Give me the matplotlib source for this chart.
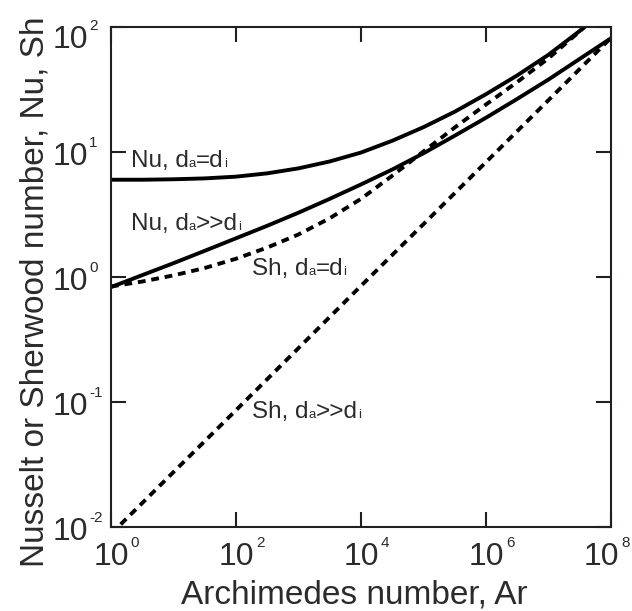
# Nusselt / Sherwood number vs Archimedes number (log-log)
import matplotlib
matplotlib.use('Agg')
import matplotlib.pyplot as plt
from matplotlib.ticker import NullLocator
from matplotlib.offsetbox import TextArea, HPacker, AnnotationBbox

plt.rcParams['font.family'] = ['Liberation Sans', 'DejaVu Sans']

# values (half-decade steps in Ar)
ar = [1, 3.16, 10, 31.6, 100, 316, 1e3, 3.16e3, 1e4, 3.16e4,
      1e5, 3.16e5, 1e6, 3.16e6, 1e7, 3.16e7, 1e8]
nu_equal = [6.0, 6.0, 6.05, 6.15, 6.35, 6.75, 7.4, 8.4, 9.9, 12.3,
            15.8, 21.0, 29.0, 41.0, 60.0, 93.0, 155.0]
nu_large = [0.83, 1.035, 1.29, 1.62, 2.04, 2.57, 3.27, 4.22, 5.5, 7.24,
            9.77, 13.5, 18.8, 26.6, 38.0, 55.6, 81.3]
sh_equal = [0.84, 0.92, 1.03, 1.18, 1.40, 1.72, 2.19, 2.95, 4.22, 6.46,
            10.1, 15.7, 24.0, 36.3, 56.2, 92.3, 158.0]

# Sh, da>>di is a straight line, read at each decade
ar_dec = [1, 10, 100, 1e3, 1e4, 1e5, 1e6, 1e7, 1e8]
sh_large = [0.0088, 0.0275, 0.086, 0.27, 0.85, 2.65, 8.3, 26.0, 82.0]

x_ticks = [1, 1e2, 1e4, 1e6, 1e8]
x_exp = ['0', '2', '4', '6', '8']
y_ticks = [1e-2, 1e-1, 1, 10, 100]
y_exp = ['-2', '-1', '0', '1', '2']

# curve labels: (text, subscript) pieces
labels = [
    [('Nu, d', 'a'), ('=d', 'i')],
    [('Nu, d', 'a'), ('>>d', 'i')],
    [('Sh, d', 'a'), ('=d', 'i')],
    [('Sh, d', 'a'), ('>>d', 'i')],
]
label_pos = [(0.04, 0.71), (0.04, 0.584), (0.282, 0.494), (0.282, 0.208)]

tc = '#2b2b2b'

fig = plt.figure(figsize=(6.32, 6.11), dpi=100)
ax = fig.add_axes([111/632, 84/611, 500/632, 500/611])

ax.plot(ar, nu_equal, color='k', lw=2.8)
ax.plot(ar, nu_large, color='k', lw=2.8)
ax.plot(ar, sh_equal, color='k', lw=2.8, dashes=(2.0, 1.5))
ax.plot(ar_dec, sh_large, color='k', lw=2.8, dashes=(2.0, 1.5))

ax.set_xscale('log')
ax.set_yscale('log')
ax.set_xlim(1, 1e8)
ax.set_ylim(1e-2, 1e2)

ax.set_xticks(x_ticks)
ax.set_yticks(y_ticks)
ax.xaxis.set_minor_locator(NullLocator())
ax.yaxis.set_minor_locator(NullLocator())
ax.set_xticklabels([])
ax.set_yticklabels([])
ax.tick_params(direction='in', top=True, right=True, length=10.8,
               width=1.5, color='#231f20')
for s in ax.spines.values():
    s.set_linewidth(1.5)
    s.set_color('#231f20')

# tick labels drawn as "10" plus a small raised exponent
for xt, e in zip(x_ticks, x_exp):
    shift = -7 if xt == x_ticks[-1] else 0
    t = ax.annotate('10', xy=(xt, 0), xycoords=('data', 'axes fraction'),
                    xytext=(shift, -27.4), textcoords='offset points',
                    ha='center', va='baseline', fontsize=23, color=tc,
                    annotation_clip=False)
    ax.annotate(e, xy=(1, 0.83), xycoords=t, xytext=(1.5, 0),
                textcoords='offset points', ha='left', va='baseline',
                fontsize=11, color=tc, annotation_clip=False)

for yt, e in zip(y_ticks, y_exp):
    shift = -6 if yt == y_ticks[-1] else 0
    t = ax.annotate('10', xy=(0, yt), xycoords=('axes fraction', 'data'),
                    xytext=(-16.6, -9.4 + shift), textcoords='offset points',
                    ha='right', va='baseline', fontsize=23, color=tc,
                    annotation_clip=False)
    ax.annotate(e, xy=(1, 0.83), xycoords=t, xytext=(1.0, 0),
                textcoords='offset points', ha='left', va='baseline',
                fontsize=11, color=tc, annotation_clip=False)

# curve labels with small baseline subscripts
for parts, pos in zip(labels, label_pos):
    boxes = []
    for main, sub in parts:
        boxes.append(TextArea(main, textprops=dict(fontsize=17.5, color=tc)))
        boxes.append(TextArea(sub, textprops=dict(fontsize=9.5, color=tc)))
    pack = HPacker(children=boxes, align='baseline', pad=0, sep=0)
    ab = AnnotationBbox(pack, pos, xycoords='axes fraction',
                        box_alignment=(0, 0), frameon=False, pad=0)
    ax.add_artist(ab)

fig.text(354/632, 1 - 603/611, 'Archimedes number, Ar', fontsize=24,
         color=tc, ha='center', va='baseline')
fig.text(35.5/632, 1 - 292/611, 'Nusselt or Sherwood number, Nu, Sh',
         fontsize=24, color=tc, ha='center', va='center', rotation=90)

fig.savefig('out.png', dpi=100)
